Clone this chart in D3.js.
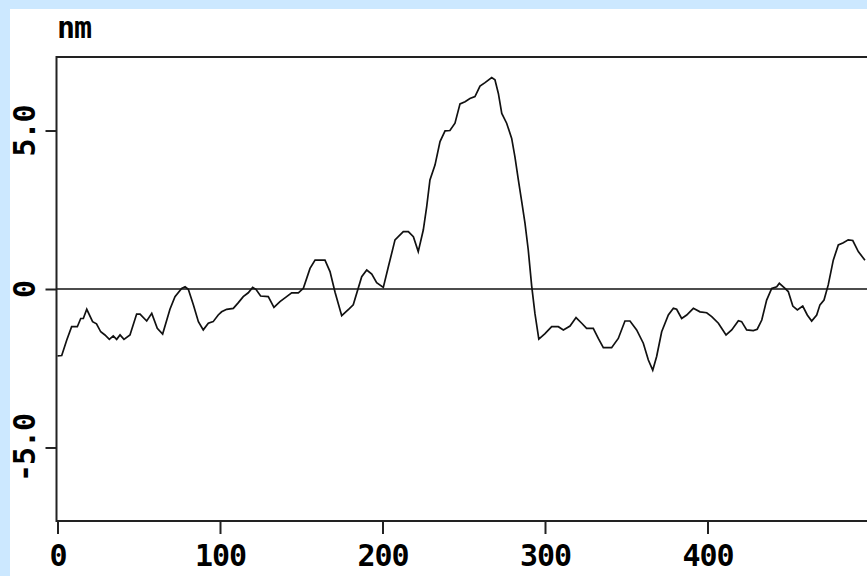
<!DOCTYPE html>
<html>
<head>
<meta charset="utf-8">
<script src="https://cdn.jsdelivr.net/npm/d3@7"></script>
<style>
  html, body { margin: 0; padding: 0; background: #cce8ff; }
  svg { display: block; }
  text { font-family: "DejaVu Sans Mono", monospace; font-weight: bold; }
</style>
</head>
<body>
<div id="graph"></div>
<script>
// profile: position (x) and height in nm
const positions = [
  0, 2.6, 5.7, 8.7, 12.2, 14.3, 15.9, 18.0, 21.6, 24.0, 26.6, 29.2, 31.9, 34.3, 36.4, 38.5,
  40.9, 44.6, 48.7, 50.8, 54.9, 58.0, 61.4, 64.7, 69.2, 72.3, 76.4, 78.5, 80.5, 83.6, 86.7,
  89.7, 92.8, 95.8, 98.9, 101.0, 104.1, 108.2, 111.3, 114.3, 117.4, 120.1, 122.1, 125.0,
  129.7, 133.2, 136.9, 141.0, 144.1, 148.2, 151.3, 155.4, 158.5, 164.6, 167.7, 170.8, 174.9,
  179.6, 182.0, 187.2, 190.3, 193.4, 196.4, 200.5, 203.6, 207.7, 212.8, 215.9, 219.0, 222.0,
  225.1, 227.2, 229.2, 232.3, 235.4, 238.5, 241.5, 244.6, 247.7, 250.8, 253.8, 256.9, 260.0,
  263.1, 267.2, 269.2, 271.3, 273.4, 276.4, 279.5, 281.5, 283.6, 285.7, 287.7, 289.7, 291.8,
  293.8, 296.2, 300.0, 304.1, 308.2, 311.3, 315.4, 319.1, 322.6, 325.6, 329.7, 332.8, 335.9,
  341.0, 345.1, 349.2, 352.3, 356.4, 360.5, 363.6, 366.3, 368.7, 371.8, 375.9, 379.0, 381.0,
  384.1, 387.2, 391.3, 395.4, 399.5, 402.6, 406.7, 408.7, 411.4, 414.9, 419.0, 421.0, 424.1,
  428.2, 430.6, 433.4, 436.4, 439.5, 442.6, 444.2, 447.7, 449.7, 452.5, 455.3, 458.6, 461.4,
  464.1, 467.2, 469.2, 471.7, 474.3, 477.4, 480.5, 483.6, 486.6, 489.4, 492.8, 496.9
];
const heights = [
  -2.11, -2.10, -1.61, -1.19, -1.19, -0.93, -0.93, -0.64, -1.03, -1.10, -1.35, -1.45, -1.59, -1.48, -1.59, -1.45,
  -1.59, -1.45, -0.79, -0.79, -1.01, -0.77, -1.24, -1.42, -0.64, -0.24, 0.02, 0.07, -0.01, -0.50, -1.03,
  -1.29, -1.08, -1.03, -0.82, -0.72, -0.64, -0.61, -0.43, -0.24, -0.12, 0.05, -0.01, -0.22,
  -0.24, -0.58, -0.40, -0.24, -0.12, -0.12, 0.02, 0.65, 0.91, 0.91, 0.55, -0.10, -0.84,
  -0.62, -0.50, 0.39, 0.60, 0.47, 0.20, 0.05, 0.70, 1.55, 1.81, 1.81, 1.65, 1.18,
  1.86, 2.60, 3.44, 3.91, 4.65, 4.99, 5.00, 5.23, 5.84, 5.91, 6.01, 6.07, 6.40,
  6.51, 6.67, 6.60, 6.17, 5.54, 5.23, 4.75, 4.17, 3.44, 2.75, 2.07, 1.23, 0.10,
  -0.77, -1.58, -1.41, -1.19, -1.19, -1.29, -1.17, -0.90, -1.08, -1.24, -1.24, -1.56, -1.85,
  -1.85, -1.56, -1.01, -1.01, -1.29, -1.71, -2.24, -2.56, -2.13, -1.35, -0.82, -0.61, -0.64,
  -0.93, -0.82, -0.61, -0.72, -0.75, -0.87, -1.08, -1.24, -1.45, -1.29, -1.00, -1.03, -1.29,
  -1.31, -1.27, -0.98, -0.35, 0.02, 0.07, 0.18, 0.02, -0.08, -0.54, -0.66, -0.54, -0.82,
  -1.01, -0.82, -0.50, -0.35, 0.13, 0.91, 1.39, 1.46, 1.55, 1.53, 1.18, 0.91
];
const xTicks = [0, 100, 200, 300, 400];
const yTicks = [-5, 0, 5];
const unitLabel = "nm";

const width = 867, height = 576;
const plotLeft = 56.5, plotTop = 57, plotBottom = 521;

const svg = d3.select("#graph")
  .append("svg")
  .attr("width", width)
  .attr("height", height);

// white panel on the blue background
svg.append("rect")
  .attr("x", 10).attr("y", 9)
  .attr("width", width - 10).attr("height", height - 9)
  .attr("fill", "white");

const x = d3.scaleLinear().domain([0, 500]).range([57.5, 57.5 + 1.625 * 500]);
const y = d3.scaleLinear().domain([-7.32, 7.32]).range([plotBottom, plotTop]);

svg.append("clipPath").attr("id", "plot-clip")
  .append("rect")
  .attr("x", plotLeft).attr("y", plotTop)
  .attr("width", width - plotLeft).attr("height", plotBottom - plotTop);

// zero line
svg.append("line")
  .attr("x1", plotLeft).attr("x2", width)
  .attr("y1", y(0)).attr("y2", y(0))
  .attr("stroke", "#111")
  .attr("stroke-width", 1.7);

const data = positions.map(function(p, i) { return [p, heights[i]]; });

const line = d3.line()
  .x(function(d) { return x(d[0]); })
  .y(function(d) { return y(d[1]); });

svg.append("path")
  .datum(data)
  .attr("clip-path", "url(#plot-clip)")
  .attr("d", line)
  .attr("fill", "none")
  .attr("stroke", "#111")
  .attr("stroke-width", 1.7);

// frame
svg.append("path")
  .attr("d", "M" + (width + 2) + "," + plotTop + "H" + plotLeft + "V" + plotBottom + "H" + (width + 2))
  .attr("fill", "none")
  .attr("stroke", "#222")
  .attr("stroke-width", 2);

// x axis
const xAxis = svg.append("g")
  .attr("transform", "translate(0," + plotBottom + ")")
  .call(d3.axisBottom(x).tickValues(xTicks).tickSize(13).tickFormat(d3.format("d")));
xAxis.select(".domain").remove();
xAxis.selectAll(".tick line").attr("stroke", "#222").attr("stroke-width", 2);
xAxis.selectAll(".tick text")
  .attr("y", 45).attr("dy", null)
  .attr("fill", "black")
  .style("font-size", "30px")
  .style("font-family", "DejaVu Sans Mono, monospace")
  .style("font-weight", "bold")
  .attr("letter-spacing", "-1");

// y axis
const yAxis = svg.append("g")
  .attr("transform", "translate(" + plotLeft + ",0)")
  .call(d3.axisLeft(y).tickValues(yTicks).tickSize(11)
    .tickFormat(function(d) { return d === 0 ? "0" : d.toFixed(1); }));
yAxis.select(".domain").remove();
yAxis.selectAll(".tick line").attr("stroke", "#222").attr("stroke-width", 2);
yAxis.selectAll(".tick text")
  .attr("transform", "rotate(-90)")
  .attr("x", 0).attr("y", -21.5).attr("dy", null)
  .attr("fill", "black")
  .style("text-anchor", "middle")
  .style("font-size", "30px")
  .style("font-family", "DejaVu Sans Mono, monospace")
  .style("font-weight", "bold")
  .attr("letter-spacing", "-1");

// unit label
svg.append("text")
  .attr("x", 57).attr("y", 38)
  .style("font-size", "30px")
  .attr("letter-spacing", "-1")
  .text(unitLabel);
</script>
</body>
</html>
